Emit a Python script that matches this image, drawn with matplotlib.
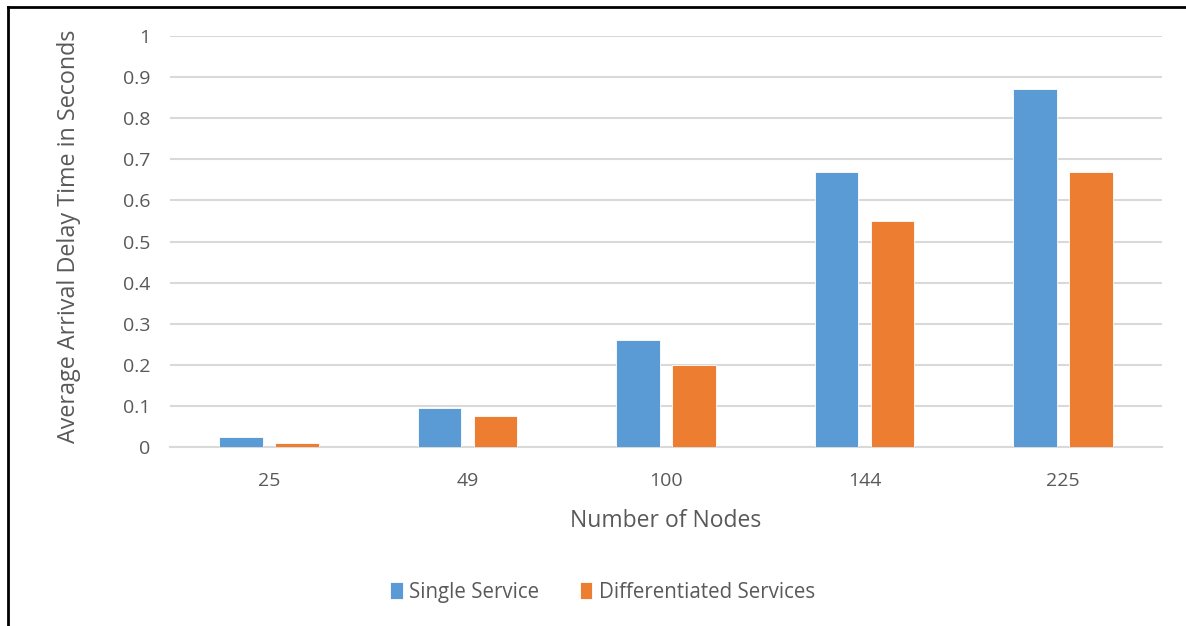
import numpy as np
import matplotlib.pyplot as plt
from matplotlib.lines import Line2D

nodes = ['25', '49', '100', '144', '225']
single = [0.024, 0.095, 0.26, 0.67, 0.87]
diff = [0.010, 0.076, 0.20, 0.55, 0.67]
yticks = [0, 0.1, 0.2, 0.3, 0.4, 0.5, 0.6, 0.7, 0.8, 0.9, 1]
ytick_labels = ['0', '0.1', '0.2', '0.3', '0.4', '0.5', '0.6', '0.7', '0.8', '0.9', '1']

plt.rcParams['font.family'] = ['Open Sans', 'DejaVu Sans']
grey = '#595959'

fig = plt.figure(figsize=(11.86, 6.26), dpi=100)
ax = fig.add_axes([0.1433, 0.2859, 0.8365, 0.6566])

x = np.arange(len(nodes))
w = 0.22
off = 0.141
ax.bar(x - off, single, w, color='#5B9BD5', edgecolor='white', linewidth=0.6,
       label='Single Service', zorder=3)
ax.bar(x + off, diff, w, color='#ED7D31', edgecolor='white', linewidth=0.6,
       label='Differentiated Services', zorder=3)

ax.set_xlim(-0.5, len(nodes) - 0.5)
ax.set_ylim(0, 1)
ax.set_xticks(x)
ax.set_xticklabels(nodes)
ax.set_yticks(yticks)
ax.set_yticklabels(ytick_labels)
ax.tick_params(axis='both', length=0, labelsize=14, labelcolor=grey)
ax.tick_params(axis='x', pad=18)
ax.tick_params(axis='y', pad=14)
ax.yaxis.grid(True, color='#d9d9d9', linewidth=1.5, zorder=0)
for s in ['top', 'right', 'left']:
    ax.spines[s].set_visible(False)
ax.spines['bottom'].set_color('#d9d9d9')
ax.spines['bottom'].set_linewidth(1.5)

ax.set_xlabel('Number of Nodes', fontsize=16.5, color=grey, labelpad=14)
fig.text(0.058, 0.622, 'Average Arrival Delay Time in Seconds', rotation=90,
         fontsize=16.8, color=grey, ha='center', va='center')

leg = fig.legend(loc='center', bbox_to_anchor=(0.508, 0.054), ncol=2, frameon=False,
                 fontsize=14.8, labelcolor=grey, handlelength=0.6, handleheight=0.9,
                 handletextpad=0.3, columnspacing=2.0)

# outer border lines (top and left)
fig.add_artist(Line2D([0.0065, 1], [0.9895, 0.9895], color='black', linewidth=2,
                      transform=fig.transFigure))
fig.add_artist(Line2D([0.0065, 0.0065], [0, 0.9895], color='black', linewidth=2,
                      transform=fig.transFigure))

fig.savefig('out.png', dpi=100)
